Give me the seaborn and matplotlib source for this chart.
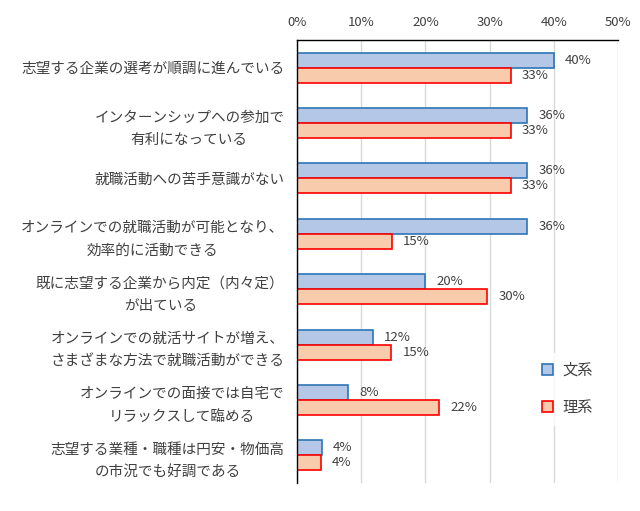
import matplotlib
matplotlib.use("Agg")
import matplotlib.pyplot as plt
import seaborn as sns
import pandas as pd
from matplotlib.patches import Patch

categories = [
    "志望する企業の選考が順調に進んでいる",
    "インターンシップへの参加で\n有利になっている",
    "就職活動への苦手意識がない",
    "オンラインでの就職活動が可能となり、\n効率的に活動できる",
    "既に志望する企業から内定（内々定）\nが出ている",
    "オンラインでの就活サイトが増え、\nさまざまな方法で就職活動ができる",
    "オンラインでの面接では自宅で\nリラックスして臨める",
    "志望する業種・職種は円安・物価高\nの市況でも好調である",
]
bunkei = [40.0, 35.9, 35.9, 35.9, 20.0, 11.8, 8.0, 3.9]
rikei = [33.3, 33.3, 33.3, 14.8, 29.6, 14.7, 22.1, 3.7]
series_names = ["文系", "理系"]
xticks = [0, 10, 20, 30, 40, 50]

fills = ["#B4C7E7", "#F8CBAD"]
edges = ["#2E75B6", "#FF0000"]

sns.set_theme(style="white")
plt.rcParams["font.family"] = ["Noto Sans CJK JP", "DejaVu Sans"]

df = pd.DataFrame({
    "cat": categories * 2,
    "val": bunkei + rikei,
    "grp": [series_names[0]] * len(categories) + [series_names[1]] * len(categories),
})

fig = plt.figure(figsize=(6.4, 5.11), dpi=100)
ax = fig.add_axes([297/640, 1 - 483/511, (618-297)/640, (483-40)/511])

sns.barplot(data=df, y="cat", x="val", hue="grp", orient="h", palette=fills,
            saturation=1, width=0.54, ax=ax, legend=False, linewidth=1.2)

for cont, ec, vals in zip(ax.containers, edges, [bunkei, rikei]):
    for p in cont.patches:
        p.set_edgecolor(ec)
        p.set_linewidth(1.2)
    ax.bar_label(cont, labels=[f"{round(v)}%" for v in vals], padding=8,
                 fontsize=9.5, color="#404040")

ax.set_xlim(0, 50)
ax.set_xticks(xticks)
ax.set_xticklabels([f"{t}%" for t in xticks], fontsize=9.5, color="#404040")
ax.xaxis.tick_top()
ax.tick_params(axis="x", length=0, pad=8)
ax.tick_params(axis="y", length=0, pad=9)
ax.set_yticks(range(len(categories)))
ax.set_yticklabels(categories, fontsize=10.5, color="#404040",
                   multialignment="center", linespacing=1.75)
ax.set_xlabel("")
ax.set_ylabel("")
ax.grid(axis="x", color="#D9D9D9", linewidth=1.0)
ax.set_axisbelow(True)
for s in ["right", "bottom"]:
    ax.spines[s].set_visible(False)
for s in ["left", "top"]:
    ax.spines[s].set_color("black")
    ax.spines[s].set_linewidth(1.0)

handles = [Patch(facecolor=f, edgecolor=e, linewidth=1.2) for f, e in zip(fills, edges)]
leg = ax.legend(handles, series_names, loc="center left", bbox_to_anchor=(0.71, 0.213),
                frameon=True, fontsize=11, handlelength=0.75, handleheight=0.75,
                labelspacing=1.3, handletextpad=0.6, borderpad=0.6)
leg.get_frame().set_facecolor("white")
leg.get_frame().set_edgecolor("white")
for t in leg.get_texts():
    t.set_color("#404040")

fig.savefig("out.png", dpi=100)
